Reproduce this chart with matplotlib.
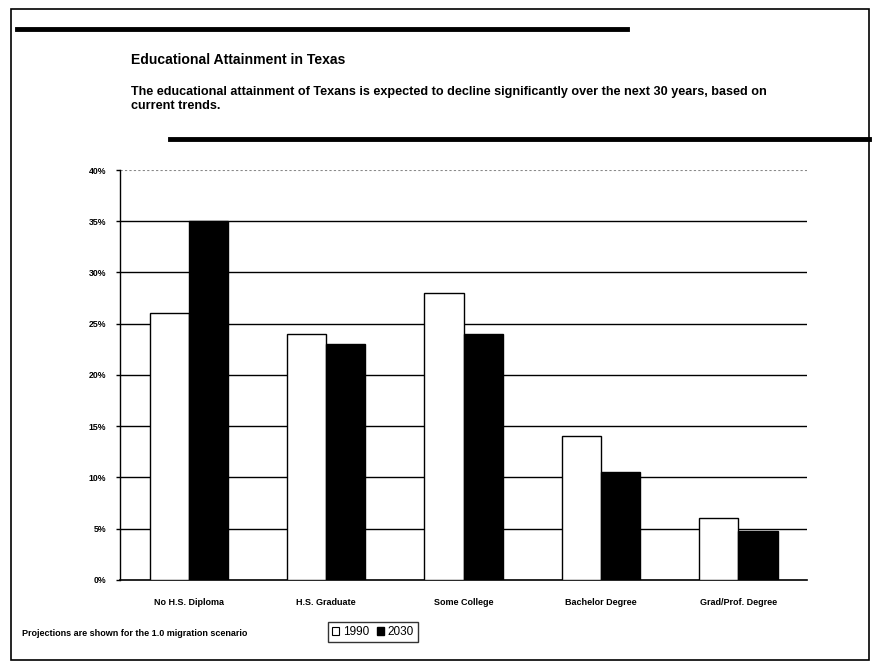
import numpy as np
import matplotlib.pyplot as plt
from matplotlib.patches import Rectangle
from matplotlib.lines import Line2D

plt.rcParams['font.family'] = ['Liberation Sans', 'DejaVu Sans']

categories = ['No H.S. Diploma', 'H.S. Graduate', 'Some College', 'Bachelor Degree', 'Grad/Prof. Degree']
vals_1990 = [26.0, 24.0, 28.0, 14.0, 6.0]
vals_2030 = [35.0, 23.0, 24.0, 10.5, 4.8]
yticks = [0, 5, 10, 15, 20, 25, 30, 35, 40]

fig = plt.figure(figsize=(8.72, 6.62), dpi=100)
ax = fig.add_axes([0.1376, 0.1239, 0.788, 0.6193])

x = np.arange(len(categories))
w = 0.285
ax.bar(x - w / 2, vals_1990, w, color='white', edgecolor='black', linewidth=1.0, zorder=3)
ax.bar(x + w / 2, vals_2030, w, color='black', edgecolor='black', linewidth=1.0, zorder=3)

ax.set_xlim(-0.5, len(categories) - 0.5)
ax.set_ylim(0, 40)
ax.set_yticks(yticks)
ax.set_yticklabels([f'{t}%' for t in yticks], fontsize=6.3, fontweight='bold')
ax.set_xticks(x)
ax.set_xticklabels(categories, fontsize=6.5, fontweight='bold')
ax.tick_params(axis='x', length=0, pad=13)
ax.tick_params(axis='y', length=3, width=1, direction='out', pad=7)
for t in yticks[1:-1]:
    ax.axhline(t, color='black', linewidth=1.0, zorder=1)
ax.axhline(40, color='#888888', linewidth=0.8, linestyle=(0, (2, 2)), zorder=1)
for s in ['top', 'right']:
    ax.spines[s].set_visible(False)
ax.spines['left'].set_linewidth(1.0)
ax.spines['bottom'].set_linewidth(1.2)

# page frame and decorative rules
fig.add_artist(Rectangle((11 / 872, 2 / 662), 858 / 872, 651 / 662, transform=fig.transFigure,
                         fill=False, edgecolor='black', linewidth=1.2))
fig.add_artist(Line2D([17 / 872, 627 / 872], [1 - 29 / 662] * 2, transform=fig.transFigure,
                      color='black', linewidth=3.5))
fig.add_artist(Line2D([170 / 872, 869 / 872], [1 - 139 / 662] * 2, transform=fig.transFigure,
                      color='black', linewidth=3.5))

fig.text(131 / 872, 1 - 60 / 662, 'Educational Attainment in Texas', fontsize=10.1,
         fontweight='bold', va='center', ha='left')
fig.text(131 / 872, 1 - 99 / 662,
         'The educational attainment of Texans is expected to decline significantly over the next 30 years, based on\ncurrent trends.',
         fontsize=9.1, fontweight='bold', va='center', ha='left', linespacing=1.3)

fig.text(22 / 872, 1 - 633 / 662, 'Projections are shown for the 1.0 migration scenario',
         fontsize=6.5, fontweight='bold', va='center', ha='left')

handles = [Rectangle((0, 0), 1, 1, facecolor='white', edgecolor='black', linewidth=0.8),
           Rectangle((0, 0), 1, 1, facecolor='black', edgecolor='black')]
leg = fig.legend(handles, ['1990', '2030'], loc='center', bbox_to_anchor=(373 / 872, 1 - 632 / 662),
                 ncol=2, fontsize=8.5, frameon=True, fancybox=False, handlelength=0.6, handleheight=0.6,
                 handletextpad=0.3, columnspacing=0.7, borderpad=0.3)
leg.get_frame().set_edgecolor('black')
leg.get_frame().set_linewidth(1.0)

fig.savefig('out.png', dpi=100)
